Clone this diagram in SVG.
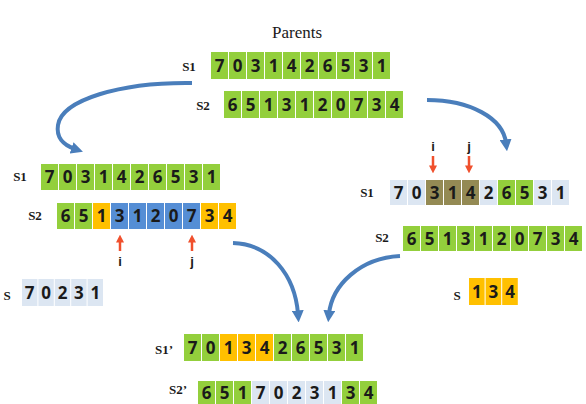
<svg xmlns="http://www.w3.org/2000/svg" width="586" height="404" viewBox="0 0 586 404">
  <defs>
    <style>
      .g{fill:#93CF3C}
      .o{fill:#FFC000}
      .b{fill:#558ED5}
      .l{fill:#DCE6F2}
      .k{fill:#948A54}
      .d{font-family:"Open Sans","Liberation Sans",sans-serif;font-weight:700;font-size:17px;fill:#1a1a1a;text-anchor:middle}
      .lab{font-family:"Liberation Serif","Times New Roman",serif;font-weight:700;font-size:13px;fill:#1a1a1a;text-anchor:middle}
      .ij{font-family:"Liberation Sans",Arial,sans-serif;font-weight:700;font-size:13px;fill:#1a1a1a;text-anchor:middle}
      .flow{fill:none;stroke:#4A7EBB;stroke-width:4;marker-end:url(#blueHead)}
      .ptr{fill:none;stroke:#F0502D;stroke-width:2.5;marker-end:url(#redHead)}
    </style>
    <marker id="blueHead" viewBox="0 0 10 10" refX="3" refY="5" markerWidth="12" markerHeight="12" markerUnits="userSpaceOnUse" orient="auto">
      <path d="M0,0 L10,5 L0,10 z" fill="#4A7EBB"/>
    </marker>
    <marker id="redHead" viewBox="0 0 10 10" refX="2" refY="5" markerWidth="8" markerHeight="9" markerUnits="userSpaceOnUse" orient="auto">
      <path d="M0,0 L10,5 L0,10 z" fill="#F0502D"/>
    </marker>
  </defs>
  <rect width="586" height="404" fill="#ffffff"/>

  <text x="297" y="38" font-family="Liberation Serif,'Times New Roman',serif" font-size="17" fill="#1a1a1a" text-anchor="middle">Parents</text>

  <!-- parent S1 -->
  <g id="parentS1">
    <text class="lab" x="189" y="71">S1</text>
    <rect class="g" x="211" y="52" width="17" height="27"/><rect class="g" x="229" y="52" width="17" height="27"/><rect class="g" x="247" y="52" width="17" height="27"/><rect class="g" x="265" y="52" width="17" height="27"/><rect class="g" x="283" y="52" width="17" height="27"/><rect class="g" x="301" y="52" width="17" height="27"/><rect class="g" x="319" y="52" width="17" height="27"/><rect class="g" x="337" y="52" width="17" height="27"/><rect class="g" x="355" y="52" width="17" height="27"/><rect class="g" x="373" y="52" width="17" height="27"/>
    <text class="d" y="71.5"><tspan x="219.5">7</tspan><tspan x="237.5">0</tspan><tspan x="255.5">3</tspan><tspan x="273.5">1</tspan><tspan x="291.5">4</tspan><tspan x="309.5">2</tspan><tspan x="327.5">6</tspan><tspan x="345.5">5</tspan><tspan x="363.5">3</tspan><tspan x="381.5">1</tspan></text>
  </g>

  <!-- parent S2 -->
  <g id="parentS2">
    <text class="lab" x="203" y="110">S2</text>
    <rect class="g" x="224" y="91" width="17" height="27"/><rect class="g" x="242" y="91" width="17" height="27"/><rect class="g" x="260" y="91" width="17" height="27"/><rect class="g" x="278" y="91" width="17" height="27"/><rect class="g" x="296" y="91" width="17" height="27"/><rect class="g" x="314" y="91" width="17" height="27"/><rect class="g" x="332" y="91" width="17" height="27"/><rect class="g" x="350" y="91" width="17" height="27"/><rect class="g" x="368" y="91" width="17" height="27"/><rect class="g" x="386" y="91" width="17" height="27"/>
    <text class="d" y="110.5"><tspan x="232.5">6</tspan><tspan x="250.5">5</tspan><tspan x="268.5">1</tspan><tspan x="286.5">3</tspan><tspan x="304.5">1</tspan><tspan x="322.5">2</tspan><tspan x="340.5">0</tspan><tspan x="358.5">7</tspan><tspan x="376.5">3</tspan><tspan x="394.5">4</tspan></text>
  </g>

  <!-- left branch S1 -->
  <g id="leftS1">
    <text class="lab" x="20" y="181">S1</text>
    <rect class="g" x="41" y="164" width="17" height="26"/><rect class="g" x="59" y="164" width="17" height="26"/><rect class="g" x="77" y="164" width="17" height="26"/><rect class="g" x="95" y="164" width="17" height="26"/><rect class="g" x="113" y="164" width="17" height="26"/><rect class="g" x="131" y="164" width="17" height="26"/><rect class="g" x="149" y="164" width="17" height="26"/><rect class="g" x="167" y="164" width="17" height="26"/><rect class="g" x="185" y="164" width="17" height="26"/><rect class="g" x="203" y="164" width="17" height="26"/>
    <text class="d" y="183"><tspan x="49.5">7</tspan><tspan x="67.5">0</tspan><tspan x="85.5">3</tspan><tspan x="103.5">1</tspan><tspan x="121.5">4</tspan><tspan x="139.5">2</tspan><tspan x="157.5">6</tspan><tspan x="175.5">5</tspan><tspan x="193.5">3</tspan><tspan x="211.5">1</tspan></text>
  </g>

  <!-- left branch S2 with segment i..j -->
  <g id="leftS2">
    <text class="lab" x="35" y="220">S2</text>
    <rect class="g" x="57" y="203" width="17" height="26"/><rect class="g" x="75" y="203" width="17" height="26"/><rect class="o" x="93" y="203" width="17" height="26"/><rect class="b" x="111" y="203" width="17" height="26"/><rect class="b" x="129" y="203" width="17" height="26"/><rect class="b" x="147" y="203" width="17" height="26"/><rect class="b" x="165" y="203" width="17" height="26"/><rect class="b" x="183" y="203" width="17" height="26"/><rect class="o" x="201" y="203" width="17" height="26"/><rect class="o" x="219" y="203" width="17" height="26"/>
    <text class="d" y="222"><tspan x="65.5">6</tspan><tspan x="83.5">5</tspan><tspan x="101.5">1</tspan><tspan x="119.5">3</tspan><tspan x="137.5">1</tspan><tspan x="155.5">2</tspan><tspan x="173.5">0</tspan><tspan x="191.5">7</tspan><tspan x="209.5">3</tspan><tspan x="227.5">4</tspan></text>
  </g>

  <g id="leftPointers">
    <path class="ptr" d="M120,251 L120,241"/>
    <path class="ptr" d="M192,251 L192,241"/>
    <text class="ij" x="120" y="266">i</text>
    <text class="ij" x="192" y="266">j</text>
  </g>

  <!-- left extracted sequence -->
  <g id="leftS">
    <text class="lab" x="7" y="300">S</text>
    <rect class="l" x="22" y="279" width="15.4" height="27"/><rect class="l" x="38.4" y="279" width="15.4" height="27"/><rect class="l" x="54.8" y="279" width="15.4" height="27"/><rect class="l" x="71.2" y="279" width="15.4" height="27"/><rect class="l" x="87.6" y="279" width="15.4" height="27"/>
    <text class="d" y="298.5"><tspan x="29.7">7</tspan><tspan x="46.1">0</tspan><tspan x="62.5">2</tspan><tspan x="78.9">3</tspan><tspan x="95.3">1</tspan></text>
  </g>

  <!-- right branch S1 with segment i..j -->
  <g id="rightS1">
    <text class="lab" x="367" y="197">S1</text>
    <rect class="l" x="390" y="180" width="17" height="25"/><rect class="l" x="408" y="180" width="17" height="25"/><rect class="k" x="426" y="180" width="17" height="25"/><rect class="k" x="444" y="180" width="17" height="25"/><rect class="k" x="462" y="180" width="17" height="25"/><rect class="l" x="480" y="180" width="17" height="25"/><rect class="g" x="498" y="180" width="17" height="25"/><rect class="g" x="516" y="180" width="17" height="25"/><rect class="l" x="534" y="180" width="17" height="25"/><rect class="l" x="552" y="180" width="17" height="25"/>
    <text class="d" y="198.5"><tspan x="398.5">7</tspan><tspan x="416.5">0</tspan><tspan x="434.5">3</tspan><tspan x="452.5">1</tspan><tspan x="470.5">4</tspan><tspan x="488.5">2</tspan><tspan x="506.5">6</tspan><tspan x="524.5">5</tspan><tspan x="542.5">3</tspan><tspan x="560.5">1</tspan></text>
  </g>

  <g id="rightPointers">
    <text class="ij" x="433" y="151">i</text>
    <text class="ij" x="469" y="151">j</text>
    <path class="ptr" d="M433,156 L433,167"/>
    <path class="ptr" d="M469,156 L469,167"/>
  </g>

  <!-- right branch S2 -->
  <g id="rightS2">
    <text class="lab" x="382" y="242">S2</text>
    <rect class="g" x="403" y="226" width="17" height="25"/><rect class="g" x="421" y="226" width="17" height="25"/><rect class="g" x="439" y="226" width="17" height="25"/><rect class="g" x="457" y="226" width="17" height="25"/><rect class="g" x="475" y="226" width="17" height="25"/><rect class="g" x="493" y="226" width="17" height="25"/><rect class="g" x="511" y="226" width="17" height="25"/><rect class="g" x="529" y="226" width="17" height="25"/><rect class="g" x="547" y="226" width="17" height="25"/><rect class="g" x="565" y="226" width="17" height="25"/>
    <text class="d" y="244.5"><tspan x="411.5">6</tspan><tspan x="429.5">5</tspan><tspan x="447.5">1</tspan><tspan x="465.5">3</tspan><tspan x="483.5">1</tspan><tspan x="501.5">2</tspan><tspan x="519.5">0</tspan><tspan x="537.5">7</tspan><tspan x="555.5">3</tspan><tspan x="573.5">4</tspan></text>
  </g>

  <!-- right extracted sequence -->
  <g id="rightS">
    <text class="lab" x="457" y="300">S</text>
    <rect class="o" x="469" y="278" width="15.6" height="27"/><rect class="o" x="485.6" y="278" width="15.6" height="27"/><rect class="o" x="502.2" y="278" width="15.6" height="27"/>
    <text class="d" y="297.5"><tspan x="476.8">1</tspan><tspan x="493.4">3</tspan><tspan x="510">4</tspan></text>
  </g>

  <!-- offspring S1' -->
  <g id="childS1">
    <text class="lab" x="164" y="354">S1’</text>
    <rect class="g" x="184" y="334" width="17" height="27"/><rect class="g" x="202" y="334" width="17" height="27"/><rect class="o" x="220" y="334" width="17" height="27"/><rect class="o" x="238" y="334" width="17" height="27"/><rect class="o" x="256" y="334" width="17" height="27"/><rect class="g" x="274" y="334" width="17" height="27"/><rect class="g" x="292" y="334" width="17" height="27"/><rect class="g" x="310" y="334" width="17" height="27"/><rect class="g" x="328" y="334" width="17" height="27"/><rect class="g" x="346" y="334" width="17" height="27"/>
    <text class="d" y="353.5"><tspan x="192.5">7</tspan><tspan x="210.5">0</tspan><tspan x="228.5">1</tspan><tspan x="246.5">3</tspan><tspan x="264.5">4</tspan><tspan x="282.5">2</tspan><tspan x="300.5">6</tspan><tspan x="318.5">5</tspan><tspan x="336.5">3</tspan><tspan x="354.5">1</tspan></text>
  </g>

  <!-- offspring S2' -->
  <g id="childS2">
    <text class="lab" x="178" y="394">S2’</text>
    <rect class="g" x="198" y="381" width="17" height="26"/><rect class="g" x="216" y="381" width="17" height="26"/><rect class="g" x="234" y="381" width="17" height="26"/><rect class="l" x="252" y="381" width="17" height="26"/><rect class="l" x="270" y="381" width="17" height="26"/><rect class="l" x="288" y="381" width="17" height="26"/><rect class="l" x="306" y="381" width="17" height="26"/><rect class="l" x="324" y="381" width="17" height="26"/><rect class="g" x="342" y="381" width="17" height="26"/><rect class="g" x="360" y="381" width="17" height="26"/>
    <text class="d" y="399"><tspan x="206.5">6</tspan><tspan x="224.5">5</tspan><tspan x="242.5">1</tspan><tspan x="260.5">7</tspan><tspan x="278.5">0</tspan><tspan x="296.5">2</tspan><tspan x="314.5">3</tspan><tspan x="332.5">1</tspan><tspan x="350.5">3</tspan><tspan x="368.5">4</tspan></text>
  </g>

  <!-- flow connectors -->
  <g id="connectors">
    <path class="flow" d="M192,83 C120,82 62,100 58,125 C56,137 63,145 75,149"/>
    <path class="flow" d="M427,100 C470,100 503,118 506,143"/>
    <path class="flow" d="M233,243 C270,244 295,275 298,314"/>
    <path class="flow" d="M400,256 C360,258 332,285 329,314"/>
  </g>
</svg>
